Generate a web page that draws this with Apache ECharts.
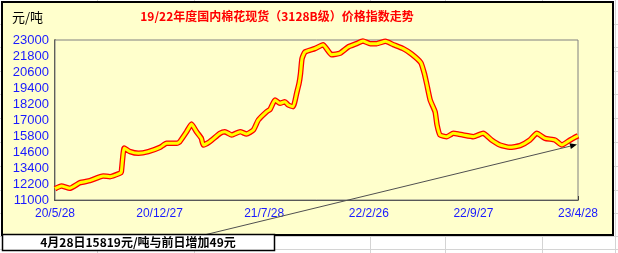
<!DOCTYPE html>
<html>
<head>
<meta charset="utf-8">
<script src="https://cdn.jsdelivr.net/npm/echarts@6/dist/echarts.min.js"></script>
<style>
html,body{margin:0;padding:0;background:#fff;}
#c{width:618px;height:253px;}
</style>
</head>
<body>
<div id="c"></div>
<script>
const dates = [
 '2020-05-28','2020-06-10','2020-06-27','2020-07-18','2020-08-07','2020-09-03','2020-09-17','2020-10-07','2020-10-10','2020-10-16',
 '2020-10-28','2020-11-14','2020-12-04','2020-12-28','2021-01-10','2021-01-31','2021-02-06','2021-02-20','2021-03-02','2021-03-12',
 '2021-03-22','2021-03-26','2021-04-08','2021-04-29','2021-05-09','2021-05-23','2021-06-09','2021-06-22','2021-07-06','2021-07-16',
 '2021-08-02','2021-08-09','2021-08-19','2021-08-29','2021-09-08','2021-09-15','2021-09-25','2021-10-02','2021-10-07','2021-10-10',
 '2021-10-13','2021-10-19','2021-11-08','2021-11-25','2021-12-02','2021-12-12','2021-12-29','2022-01-15','2022-02-01','2022-02-14',
 '2022-03-01','2022-03-14','2022-04-01','2022-04-17','2022-05-07','2022-05-24','2022-06-12','2022-06-19','2022-06-24','2022-07-01',
 '2022-07-11','2022-07-15','2022-07-21','2022-08-04','2022-08-17','2022-08-27','2022-09-06','2022-09-27','2022-10-17','2022-11-03',
 '2022-11-20','2022-12-10','2022-12-31','2023-01-20','2023-02-03','2023-02-20','2023-03-12','2023-03-26','2023-04-12','2023-04-28'
];
const prices = [
 11850,12050,11875,12300,12450,12800,12750,13000,13100,14900,
 14625,14500,14625,14950,15250,15250,15375,16125,16700,16125,
 15625,15125,15375,16000,16125,15875,16125,15950,16250,17000,
 17625,17800,18500,18250,18375,18125,18000,19000,19750,20500,
 21600,22100,22350,22650,22350,21900,22000,22475,22725,22925,
 22725,22725,22900,22650,22350,21950,21300,20500,19700,18500,
 17625,16625,15875,15750,16000,15950,15875,15750,16000,15500,
 15125,14950,15075,15500,16000,15625,15500,15125,15500,15819
];
const xTickDates = ['2020-05-28','2020-12-27','2021-07-28','2022-02-26','2022-09-27','2023-04-28'];
const xTickLabels = ['20/5/28','20/12/27','21/7/28','22/2/26','22/9/27','23/4/28'];
const yTicks = [11000,12200,13400,14600,15800,17000,18200,19400,20600,21800,23000];
const titleText = '19/22年度国内棉花现货（3128B级）价格指数走势';
const unitText = '元/吨';
const noteText = '4月28日15819元/吨与前日增加49元';

function ts(s){const p=s.split('-').map(Number);return Date.UTC(p[0],p[1]-1,p[2]);}
const xTickTs = xTickDates.map(ts);
const seriesData = dates.map((d,i)=>[ts(d), prices[i]]);

const chart = echarts.init(document.getElementById('c'), null, {renderer:'canvas'});

const bg = [];
[97,194,370,445,542,615].forEach(x=>bg.push({type:'line',z:-20,silent:true,shape:{x1:x+0.5,y1:0,x2:x+0.5,y2:253},style:{stroke:'#d4d4d4',lineWidth:1}}));
[24,47,71,94,118,142,166,190,213,236,249].forEach(y=>bg.push({type:'line',z:-20,silent:true,shape:{x1:0,y1:y+0.5,x2:618,y2:y+0.5},style:{stroke:'#d4d4d4',lineWidth:1}}));

const ax1=200, ay1=236, ax2=577, ay2=144.5;
const dx=ax2-ax1, dy=ay2-ay1, L=Math.hypot(dx,dy), ux=dx/L, uy=dy/L;
const bx=ax2-ux*7, by=ay2-uy*7, px=-uy*3, py=ux*3;

chart.setOption({
  animation:false,
  backgroundColor:'transparent',
  grid:{left:55,top:40,right:40,bottom:53,show:true,backgroundColor:'#FFFFCC',borderColor:'#808080',borderWidth:1,z:1},
  xAxis:{
    type:'value',
    min:xTickTs[0], max:xTickTs[xTickTs.length-1],
    axisLine:{show:true,onZero:false,lineStyle:{color:'#000',width:1.5}},
    axisTick:{show:true,inside:true,length:4,lineStyle:{color:'#000'},customValues:xTickTs},
    axisLabel:{customValues:xTickTs,color:'#1a1aff',fontFamily:'Liberation Sans',fontSize:12,margin:8,
      formatter:function(v){const i=xTickTs.indexOf(v);return i>=0?xTickLabels[i]:'';}},
    splitLine:{show:false}
  },
  yAxis:{
    type:'value',min:yTicks[0],max:yTicks[yTicks.length-1],
    axisLine:{show:true,lineStyle:{color:'#000',width:1.5}},
    axisTick:{show:false,customValues:yTicks},
    axisLabel:{customValues:yTicks,color:'#1a1aff',fontFamily:'Liberation Sans',fontSize:13,margin:6,
      formatter:function(v){return String(v);}},
    splitLine:{show:true,lineStyle:{color:'#c0c0c0',width:1}}
  },
  series:[
    {type:'line',data:seriesData,showSymbol:false,smooth:0.15,lineStyle:{color:'#ff0000',width:5.5},z:3},
    {type:'line',data:seriesData,showSymbol:false,smooth:0.15,lineStyle:{color:'#ffff00',width:3},z:4}
  ],
  graphic:[
    ...bg,
    {type:'rect',z:-10,silent:true,shape:{x:2,y:2,width:611,height:233},style:{fill:'#FFFFCC',stroke:'#000',lineWidth:2}},
    {type:'text',z:10,left:12,top:11,style:{text:unitText,fill:'#000',font:'13px "Noto Sans CJK SC"'}},
    {type:'text',z:10,x:277,y:16,style:{text:titleText,fill:'#ff0000',font:'bold 12px "Noto Sans CJK SC"',textAlign:'center',textVerticalAlign:'middle'}},
    {type:'line',z:20,silent:true,shape:{x1:ax1,y1:ay1,x2:bx,y2:by},style:{stroke:'#505050',lineWidth:1}},
    {type:'polygon',z:20,silent:true,shape:{points:[[ax2,ay2],[bx+px,by+py],[bx-px,by-py]]},style:{fill:'#000'}},
    {type:'rect',z:30,silent:true,shape:{x:2.5,y:234.5,width:272,height:16},style:{fill:'#fff',stroke:'#000',lineWidth:1.5}},
    {type:'text',z:31,x:138,y:242.5,style:{text:noteText,fill:'#000',font:'bold 12px "Noto Sans CJK SC"',textAlign:'center',textVerticalAlign:'middle'}}
  ]
});
</script>
</body>
</html>
